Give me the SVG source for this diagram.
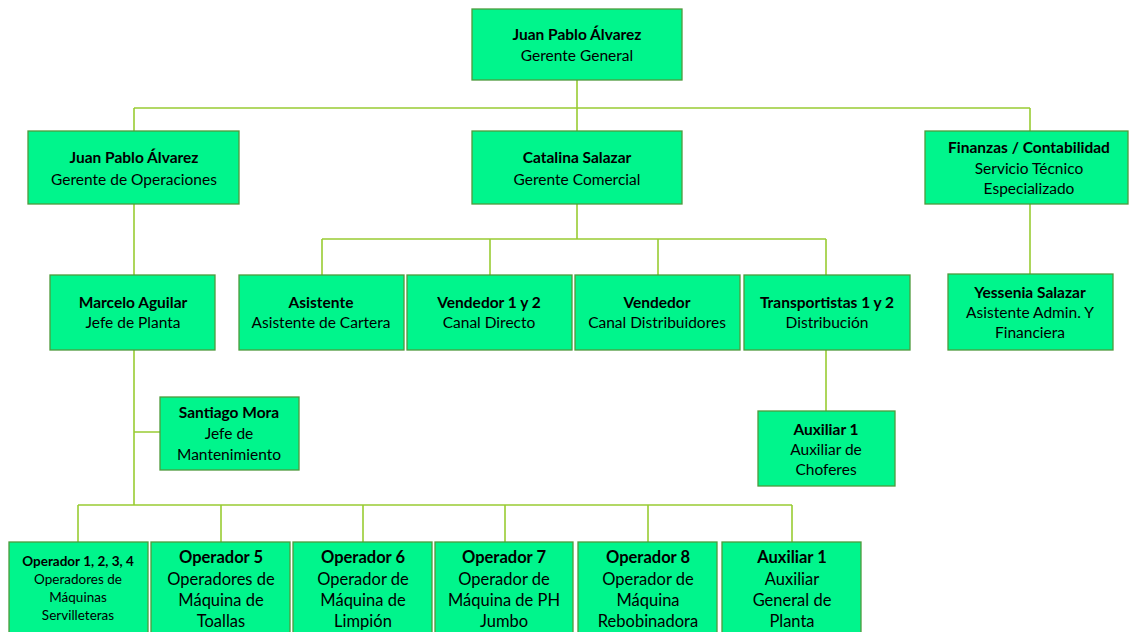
<svg xmlns="http://www.w3.org/2000/svg" width="1129" height="632" viewBox="0 0 1129 632">
  <style>
    .box { fill: #00F58C; stroke: #4E9A3C; stroke-width: 1.3; }
    .lnk { stroke: #99CC33; stroke-width: 1.6; fill: none; }
    text { font-family: Lato, "Open Sans", "Liberation Sans", sans-serif; font-size: 15.5px; fill: #000; text-anchor: middle; }
    .b { font-weight: bold; }
    .big { font-size: 16.5px; }
    .sm { font-size: 13.5px; }
  </style>
  <rect width="1129" height="632" fill="#fff"/>

  <!-- connectors -->
  <g id="connectors" class="lnk">
    <path d="M577 80V131M134 108H1030M134 108V131M1030 108V131"/>
    <path d="M577 204V239M322 239H826M322 239V275M490 239V275M658 239V275M826 239V275"/>
    <path d="M134 204V275M134 350V505M134 432H160"/>
    <path d="M826 350V411M1030 204V275"/>
    <path d="M78 505H792M78 505V542M221 505V542M363 505V542M505 505V542M648 505V542M792 505V542"/>
  </g>

  <g id="gerente-general">
    <rect class="box" x="472" y="9" width="210" height="71"/>
    <text x="577" y="40" class="b">Juan Pablo Álvarez</text>
    <text x="577" y="61">Gerente General</text>
  </g>

  <g id="gerente-operaciones">
    <rect class="box" x="28" y="131" width="211" height="73"/>
    <text x="134" y="163" class="b">Juan Pablo Álvarez</text>
    <text x="134" y="185">Gerente de Operaciones</text>
  </g>

  <g id="gerente-comercial">
    <rect class="box" x="472" y="131" width="210" height="73"/>
    <text x="577" y="163" class="b">Catalina Salazar</text>
    <text x="577" y="185">Gerente Comercial</text>
  </g>

  <g id="finanzas">
    <rect class="box" x="925" y="131" width="203" height="73"/>
    <text x="1029" y="153" class="b">Finanzas / Contabilidad</text>
    <text x="1029" y="174">Servicio Técnico</text>
    <text x="1029" y="194">Especializado</text>
  </g>

  <g id="jefe-planta">
    <rect class="box" x="50" y="275" width="165" height="75"/>
    <text x="133" y="308" class="b">Marcelo Aguilar</text>
    <text x="133" y="328">Jefe de Planta</text>
  </g>

  <g id="asistente">
    <rect class="box" x="239" y="275" width="165" height="75"/>
    <text x="321" y="308" class="b">Asistente</text>
    <text x="321" y="328">Asistente de Cartera</text>
  </g>

  <g id="vendedor-directo">
    <rect class="box" x="407" y="275" width="165" height="75"/>
    <text x="489" y="308" class="b">Vendedor  1 y 2</text>
    <text x="489" y="328">Canal Directo</text>
  </g>

  <g id="vendedor-distribuidores">
    <rect class="box" x="575" y="275" width="165" height="75"/>
    <text x="657" y="308" class="b">Vendedor</text>
    <text x="657" y="328">Canal Distribuidores</text>
  </g>

  <g id="transportistas">
    <rect class="box" x="744" y="275" width="166" height="75"/>
    <text x="827" y="308" class="b">Transportistas 1 y 2</text>
    <text x="827" y="328">Distribución</text>
  </g>

  <g id="asistente-admin">
    <rect class="box" x="948" y="274" width="165" height="76"/>
    <text x="1030" y="298" class="b">Yessenia Salazar</text>
    <text x="1030" y="318">Asistente Admin. Y</text>
    <text x="1030" y="338">Financiera</text>
  </g>

  <g id="jefe-mantenimiento">
    <rect class="box" x="160" y="397" width="139" height="73"/>
    <text x="229" y="418" class="b">Santiago Mora</text>
    <text x="229" y="439">Jefe de</text>
    <text x="229" y="460">Mantenimiento</text>
  </g>

  <g id="auxiliar-choferes">
    <rect class="box" x="758" y="411" width="137" height="75"/>
    <text x="826" y="435" class="b">Auxiliar 1</text>
    <text x="826" y="455">Auxiliar de</text>
    <text x="826" y="475">Choferes</text>
  </g>

  <g id="operador-1-4">
    <rect class="box" x="9" y="542" width="139" height="95"/>
    <text x="78" y="566" class="b sm">Operador 1, 2, 3, 4</text>
    <text x="78" y="584" class="sm">Operadores de</text>
    <text x="78" y="602" class="sm">Máquinas</text>
    <text x="78" y="620" class="sm">Servilleteras</text>
  </g>

  <g id="operador-5">
    <rect class="box" x="151" y="542" width="139" height="95"/>
    <text x="221" y="563" class="b big">Operador 5</text>
    <text x="221" y="585" class="big">Operadores de</text>
    <text x="221" y="606" class="big">Máquina de</text>
    <text x="221" y="627" class="big">Toallas</text>
  </g>

  <g id="operador-6">
    <rect class="box" x="293" y="542" width="139" height="95"/>
    <text x="363" y="563" class="b big">Operador 6</text>
    <text x="363" y="585" class="big">Operador de</text>
    <text x="363" y="606" class="big">Máquina de</text>
    <text x="363" y="627" class="big">Limpión</text>
  </g>

  <g id="operador-7">
    <rect class="box" x="435" y="542" width="138" height="95"/>
    <text x="504" y="563" class="b big">Operador 7</text>
    <text x="504" y="585" class="big">Operador de</text>
    <text x="504" y="606" class="big">Máquina de PH</text>
    <text x="504" y="627" class="big">Jumbo</text>
  </g>

  <g id="operador-8">
    <rect class="box" x="578" y="542" width="139" height="95"/>
    <text x="648" y="563" class="b big">Operador 8</text>
    <text x="648" y="585" class="big">Operador de</text>
    <text x="648" y="606" class="big">Máquina</text>
    <text x="648" y="627" class="big">Rebobinadora</text>
  </g>

  <g id="auxiliar-planta">
    <rect class="box" x="722" y="542" width="139" height="95"/>
    <text x="792" y="563" class="b big">Auxiliar 1</text>
    <text x="792" y="585" class="big">Auxiliar</text>
    <text x="792" y="606" class="big">General de</text>
    <text x="792" y="627" class="big">Planta</text>
  </g>
</svg>
